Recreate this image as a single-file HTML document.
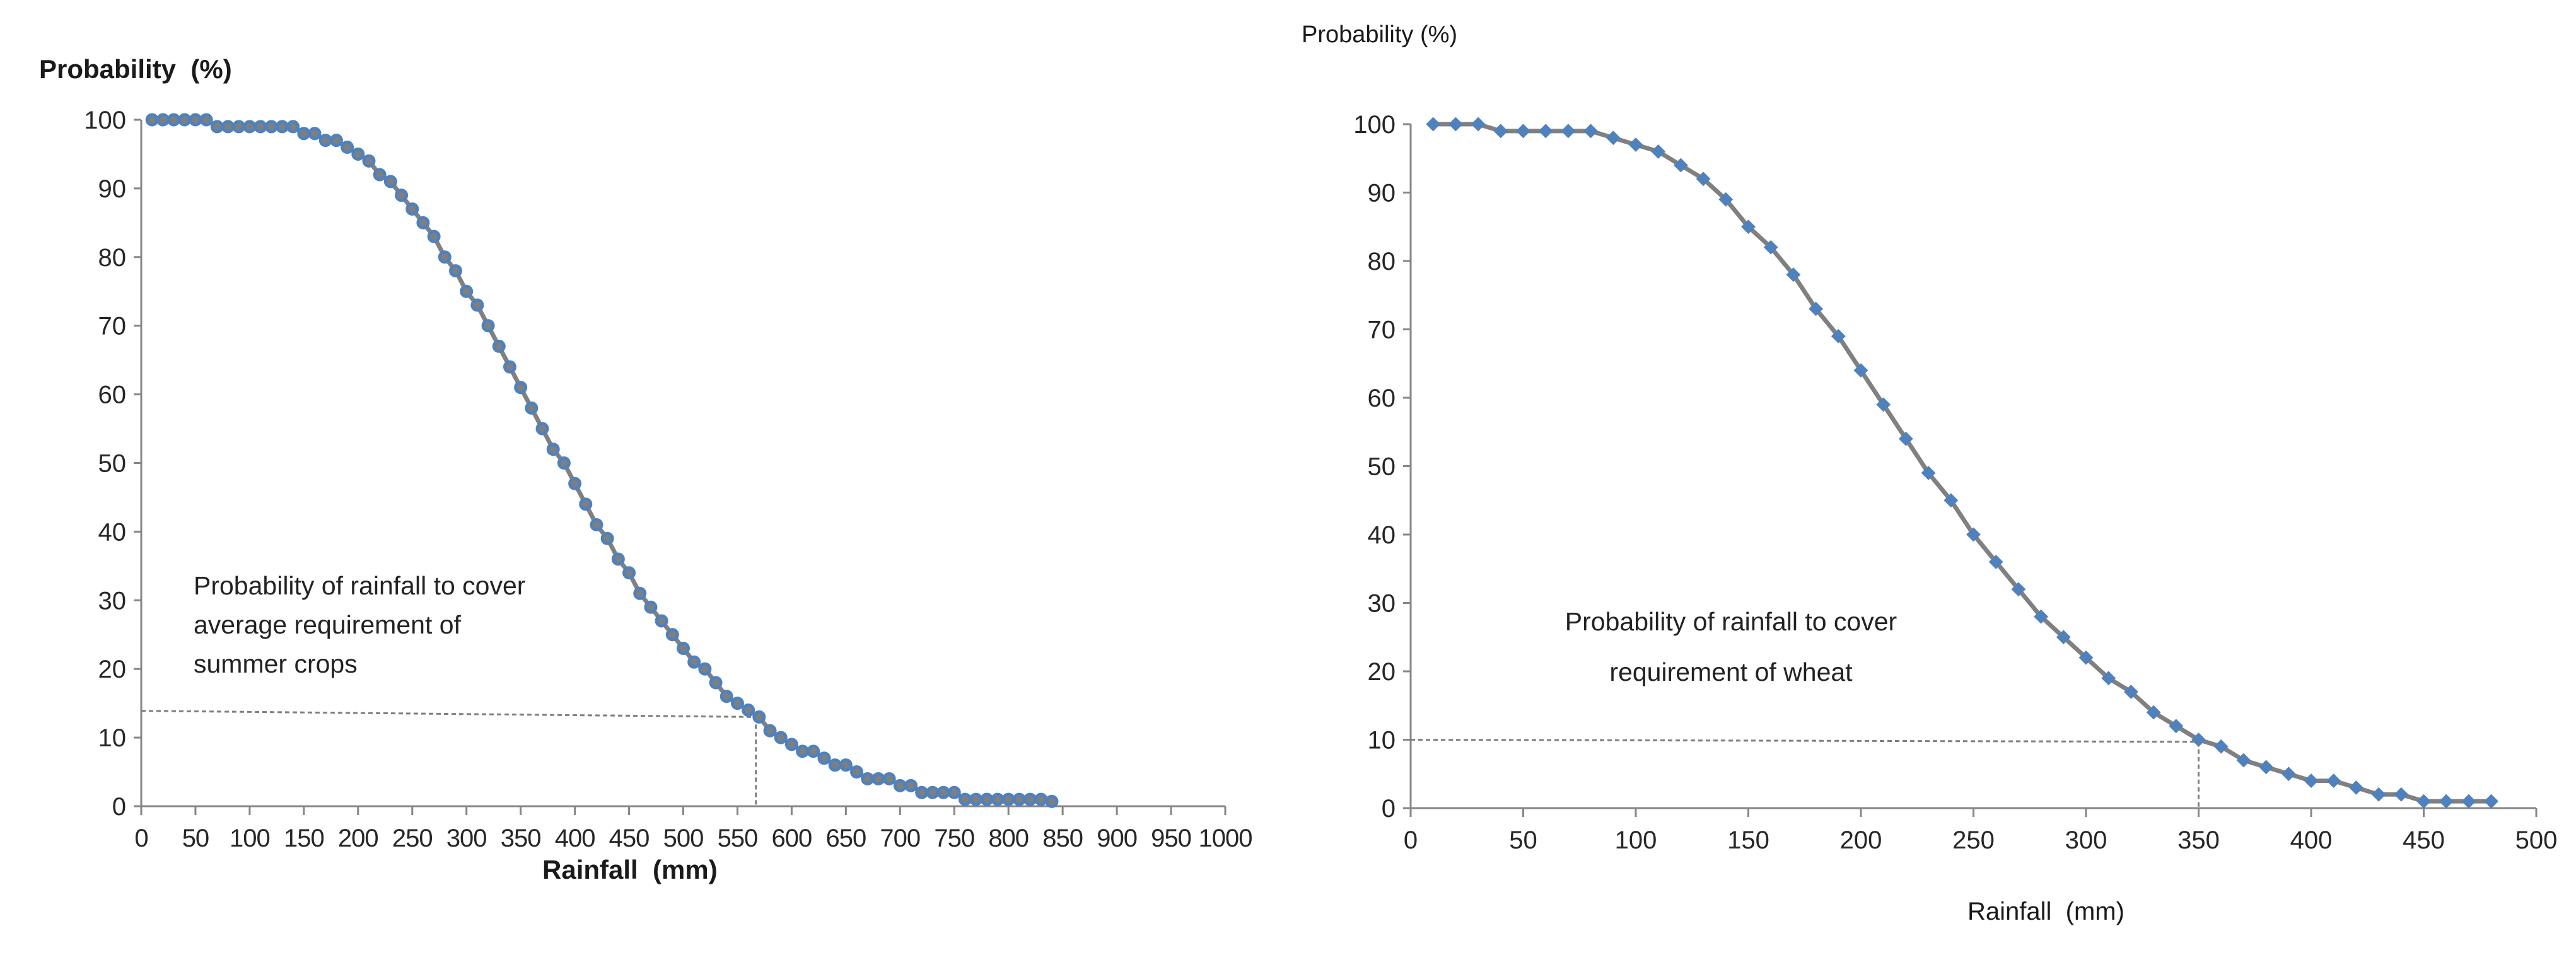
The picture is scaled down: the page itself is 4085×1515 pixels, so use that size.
<!DOCTYPE html>
<html><head><meta charset="utf-8"><style>
html,body{margin:0;padding:0;background:#fff;}
svg{display:block;font-family:"Liberation Sans",sans-serif;}
</style></head><body>
<svg width="4085" height="1515" viewBox="0 0 4085 1515">
<g id="left"></g>
<g id="right"></g>
</svg>
<script>
const leftX = [];
for (let v = 10; v <= 840; v += 10) leftX.push(v);
const leftY = [100,100,100,100,100,100,99,99,99,99,99,99,99,99,98,98,97,97,96,95,94,92,91,89,87,85,83,80,78,75,73,70,67,64,61,58,55,52,50,47,44,41,39,36,34,31,29,27,25,23,21,20,18,16,15,14,13,11,10,9,8,8,7,6,6,5,4,4,4,3,3,2,2,2,2,1,1,1,1,1,1,1,1,0.7];
const leftTicksX = [0,50,100,150,200,250,300,350,400,450,500,550,600,650,700,750,800,850,900,950,1000];
const ticksY = [0,10,20,30,40,50,60,70,80,90,100];
const leftRef = [567, 13.9, 13];

const rightX = [];
for (let v = 10; v <= 480; v += 10) rightX.push(v);
const rightY = [100,100,100,99,99,99,99,99,98,97,96,94,92,89,85,82,78,73,69,64,59,54,49,45,40,36,32,28,25,22,19,17,14,12,10,9,7,6,5,4,4,3,2,2,1,1,1,1];
const rightTicksX = [0,50,100,150,200,250,300,350,400,450,500];
const rightRef = [350, 10, 9.7];

const NS = "http://www.w3.org/2000/svg";
function mk(parent, tag, attrs, text) {
  const e = document.createElementNS(NS, tag);
  for (const k in attrs) e.setAttribute(k, attrs[k]);
  if (text !== undefined) e.textContent = text;
  parent.appendChild(e);
  return e;
}

function drawChart(g, cfg) {
  const sx = v => cfg.x0 + (v - cfg.xmin) / (cfg.xmax - cfg.xmin) * (cfg.x1 - cfg.x0);
  const sy = v => cfg.y0 + v / 100 * (cfg.y1 - cfg.y0);
  const ya = mk(g, "line", {x1: cfg.x0, y1: sy(100), x2: cfg.x0, y2: sy(0), stroke: "#868686", "stroke-width": 3});
  
  
  const xa = mk(g, "line", {x1: cfg.x0 - 10, y1: sy(0), x2: cfg.x1, y2: sy(0), stroke: "#868686", "stroke-width": 3});
  
  
  cfg.ticksY.forEach(t => {
    const tk = mk(g, "line", {x1: cfg.x0 - 12, y1: sy(t), x2: cfg.x0, y2: sy(t), stroke: "#868686", "stroke-width": 3});
    
    
    const lb = mk(g, "text", {x: cfg.x0 - 24, y: sy(t) + 14, "text-anchor": "end", "font-size": 40, fill: "#262626"}, String(t));
    
    
  });
  cfg.ticksX.forEach(t => {
    const tk = mk(g, "line", {x1: sx(t), y1: sy(0), x2: sx(t), y2: sy(0) + 14, stroke: "#868686", "stroke-width": 3});
    
    
    const lb = mk(g, "text", {x: sx(t), y: sy(0) + 64, "text-anchor": "middle", "font-size": 40, fill: "#262626", "letter-spacing": cfg.ls}, String(t));
    
    
  });
  const r = cfg.ref;
  const dh = mk(g, "path", {d: `M${cfg.x0},${sy(r[1])} L${sx(r[0])},${sy(r[2])}`, stroke: "#7f7f7f", "stroke-width": 3, "stroke-dasharray": "7,5", fill: "none"});
  
  
  const dv = mk(g, "path", {d: `M${sx(r[0])},${sy(r[2])} L${sx(r[0])},${sy(0)}`, stroke: "#7f7f7f", "stroke-width": 3, "stroke-dasharray": "7,5", fill: "none"});
  
  
  const pts = cfg.xs.map((x, i) => `${sx(x)},${sy(cfg.ys[i])}`).join(" ");
  const pl = mk(g, "polyline", {points: pts, fill: "none", stroke: "#808080", "stroke-width": 7, "stroke-linejoin": "round"});
  
  
  cfg.xs.forEach((x, i) => {
    const cx = sx(x), cy = sy(cfg.ys[i]);
    let m;
    if (cfg.marker === "circle") {
      m = mk(g, "circle", {cx: cx, cy: cy, r: 8, fill: "#7f7f7f", stroke: "#4f81bd", "stroke-width": 5});
    } else {
      const s = 10;
      m = mk(g, "path", {d: `M${cx},${cy - s} L${cx + s},${cy} L${cx},${cy + s} L${cx - s},${cy} Z`, fill: "#4f81bd", stroke: "#4f81bd", "stroke-width": 2});
    }
    
    
  });
}

drawChart(document.getElementById("left"), {x0: 224, x1: 1943, xmin: 0, xmax: 1000, y0: 1279, y1: 190, xs: leftX, ys: leftY, ticksX: leftTicksX, ticksY: ticksY, ref: leftRef, marker: "circle", ls: -1});
drawChart(document.getElementById("right"), {x0: 2237, x1: 4022, xmin: 0, xmax: 500, y0: 1282, y1: 197, xs: rightX, ys: rightY, ticksX: rightTicksX, ticksY: ticksY, ref: rightRef, marker: "diamond", ls: 0});
</script>
<div style="position:absolute;left:0;top:0;width:4085px;height:1515px;pointer-events:none;font-family:'Liberation Sans',sans-serif;color:#1a1a1a;">
  <div style="position:absolute;left:62px;top:86px;font-size:42px;font-weight:bold;white-space:pre;">Probability  (%)</div>
  <div style="position:absolute;left:860px;top:1356px;font-size:42px;font-weight:bold;white-space:pre;">Rainfall  (mm)</div>
  <div style="position:absolute;left:307px;top:898px;font-size:41px;line-height:62px;color:#222;">Probability of rainfall to cover<br>average requirement of<br>summer crops</div>
  <div style="position:absolute;left:2064px;top:34px;font-size:38px;">Probability (%)</div>
  <div style="position:absolute;left:3120px;top:1424px;font-size:40px;white-space:pre;">Rainfall  (mm)</div>
  <div style="position:absolute;left:2380px;top:946px;width:730px;text-align:center;font-size:41px;line-height:80px;color:#222;">Probability of rainfall to cover<br>requirement of wheat</div>
</div>
</body></html>
